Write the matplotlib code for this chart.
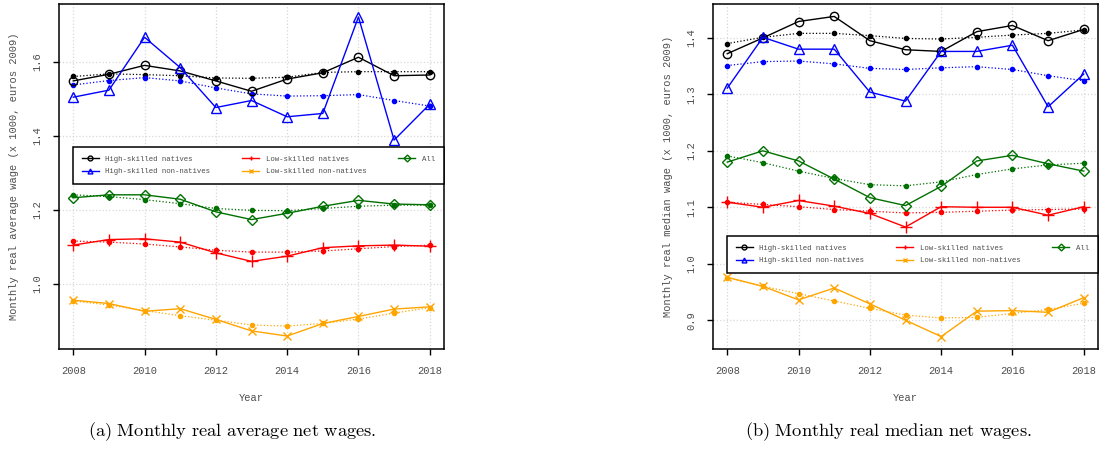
import matplotlib.pyplot as plt
from matplotlib.lines import Line2D

plt.rcParams['mathtext.fontset'] = 'cm'

years = list(range(2008, 2019))

# (a) average wages, solid = observed, dotted = fitted
avg_hs_nat = [1.549, 1.567, 1.591, 1.576, 1.549, 1.521, 1.554, 1.571, 1.613, 1.563, 1.565]
avg_hs_nat_fit = [1.561, 1.568, 1.566, 1.563, 1.557, 1.556, 1.559, 1.572, 1.574, 1.574, 1.574]
avg_hs_nn = [1.505, 1.524, 1.667, 1.585, 1.477, 1.496, 1.452, 1.461, 1.722, 1.389, 1.486]
avg_hs_nn_fit = [1.538, 1.550, 1.558, 1.549, 1.530, 1.514, 1.508, 1.509, 1.512, 1.496, 1.481]
avg_all = [1.233, 1.241, 1.241, 1.229, 1.195, 1.174, 1.191, 1.210, 1.226, 1.216, 1.214]
avg_all_fit = [1.241, 1.236, 1.228, 1.217, 1.204, 1.199, 1.198, 1.204, 1.210, 1.213, 1.213]
avg_ls_nat = [1.105, 1.120, 1.122, 1.113, 1.084, 1.061, 1.075, 1.098, 1.103, 1.105, 1.102]
avg_ls_nat_fit = [1.116, 1.113, 1.108, 1.100, 1.091, 1.086, 1.086, 1.089, 1.095, 1.101, 1.105]
avg_ls_nn = [0.956, 0.947, 0.926, 0.933, 0.904, 0.873, 0.859, 0.893, 0.912, 0.932, 0.938]
avg_ls_nn_fit = [0.954, 0.943, 0.928, 0.914, 0.902, 0.889, 0.886, 0.893, 0.905, 0.921, 0.936]

# (b) median wages
med_hs_nat = [1.372, 1.400, 1.429, 1.438, 1.395, 1.379, 1.376, 1.411, 1.422, 1.395, 1.415]
med_hs_nat_fit = [1.390, 1.401, 1.408, 1.408, 1.404, 1.399, 1.398, 1.401, 1.405, 1.408, 1.414]
med_hs_nn = [1.311, 1.401, 1.380, 1.380, 1.304, 1.288, 1.376, 1.376, 1.387, 1.278, 1.336]
med_hs_nn_fit = [1.351, 1.358, 1.359, 1.354, 1.346, 1.344, 1.347, 1.349, 1.344, 1.333, 1.324]
med_all = [1.180, 1.200, 1.182, 1.150, 1.117, 1.103, 1.137, 1.182, 1.192, 1.177, 1.164]
med_all_fit = [1.191, 1.179, 1.164, 1.151, 1.140, 1.138, 1.145, 1.158, 1.168, 1.175, 1.178]
med_ls_nat = [1.109, 1.100, 1.112, 1.102, 1.089, 1.065, 1.101, 1.100, 1.100, 1.086, 1.101]
med_ls_nat_fit = [1.109, 1.105, 1.101, 1.096, 1.093, 1.090, 1.091, 1.093, 1.095, 1.096, 1.097]
med_ls_nn = [0.976, 0.960, 0.936, 0.957, 0.929, 0.900, 0.871, 0.916, 0.917, 0.914, 0.940]
med_ls_nn_fit = [0.975, 0.960, 0.947, 0.934, 0.921, 0.909, 0.904, 0.905, 0.912, 0.919, 0.930]

labels = ["High-skilled natives", "High-skilled non-natives", "Low-skilled natives",
          "Low-skilled non-natives", "All"]
colors = ["black", "#0000ff", "#ff0000", "#ffa500", "#007000"]
markers = ["o", "^", "+", "x", "D"]
msizes = [6, 7, 8, 6, 5.5]

mono = "Liberation Mono"
gray = "#4d4d4d"

fig = plt.figure(figsize=(10.99, 4.49), dpi=100)
ax1 = fig.add_axes([59 / 1099, 100 / 449, 385 / 1099, 345 / 449])
ax2 = fig.add_axes([713 / 1099, 100 / 449, 385 / 1099, 345 / 449])


def draw(ax, obs, fit, ylim, yticks, ylabel, leg_box):
    for i in range(5):
        ax.plot(years, fit[i], linestyle=":", color=colors[i], lw=0.9,
                marker="o", ms=3, mec=colors[i], mfc=colors[i], zorder=2)
        ax.plot(years, obs[i], linestyle="-", color=colors[i], lw=1,
                marker=markers[i], ms=msizes[i], mfc="none", mec=colors[i],
                mew=1, zorder=3)
    ax.set_xlim(2007.6, 2018.4)
    ax.set_ylim(*ylim)
    ax.set_xticks(range(2008, 2019, 2))
    ax.set_yticks(yticks)
    ax.set_yticklabels(["%.1f" % v for v in yticks], rotation=90, va="center")
    ax.grid(True, color="#d8d8d8", linestyle=":", lw=0.9)
    ax.set_axisbelow(True)
    for s in ax.spines.values():
        s.set_linewidth(1.1)
    ax.tick_params(length=4, width=1, pad=8, labelsize=7.5, labelcolor=gray)
    for t in ax.get_xticklabels() + ax.get_yticklabels():
        t.set_fontfamily(mono)
    ax.set_xlabel("Year", fontfamily=mono, fontsize=7.5, color=gray)
    ax.set_ylabel(ylabel, fontfamily=mono, fontsize=7.5, color=gray)
    ax.xaxis.set_label_coords(0.5, -0.128)
    ax.yaxis.set_label_coords(-0.105, 0.5)

    handles = [Line2D([], [], color=colors[i], lw=1, marker=markers[i], ms=3.5,
                      mfc="none", mec=colors[i]) for i in range(5)]
    leg = ax.legend(handles, labels, ncol=3, loc="upper left",
                    bbox_to_anchor=leg_box, mode="expand", borderaxespad=0,
                    prop={"family": mono, "size": 5.3}, labelcolor=gray,
                    frameon=True, fancybox=False, framealpha=1,
                    edgecolor="black", handlelength=2.3, handletextpad=0.9,
                    labelspacing=0.75, borderpad=1.2)
    leg.get_frame().set_linewidth(1.1)
    leg.set_zorder(5)


draw(ax1,
     [avg_hs_nat, avg_hs_nn, avg_ls_nat, avg_ls_nn, avg_all],
     [avg_hs_nat_fit, avg_hs_nn_fit, avg_ls_nat_fit, avg_ls_nn_fit, avg_all_fit],
     (0.824, 1.757), [1.0, 1.2, 1.4, 1.6],
     "Monthly real average wage (x 1000, euros 2009)",
     (0.036, 0.472, 0.964, 0.114))
draw(ax2,
     [med_hs_nat, med_hs_nn, med_ls_nat, med_ls_nn, med_all],
     [med_hs_nat_fit, med_hs_nn_fit, med_ls_nat_fit, med_ls_nn_fit, med_all_fit],
     (0.849, 1.460), [0.9, 1.0, 1.1, 1.2, 1.3, 1.4],
     "Monthly real median wage (x 1000, euros 2009)",
     (0.036, 0.22, 0.964, 0.108))

fig.text(232 / 1099, 0.029, r"$\mathrm{(a)\ Monthly\ real\ average\ net\ wages.}$",
         ha="center", va="baseline", fontsize=13.3)
fig.text(888 / 1099, 0.029, r"$\mathrm{(b)\ Monthly\ real\ median\ net\ wages.}$",
         ha="center", va="baseline", fontsize=13.3)

fig.savefig("out.png", dpi=100)
